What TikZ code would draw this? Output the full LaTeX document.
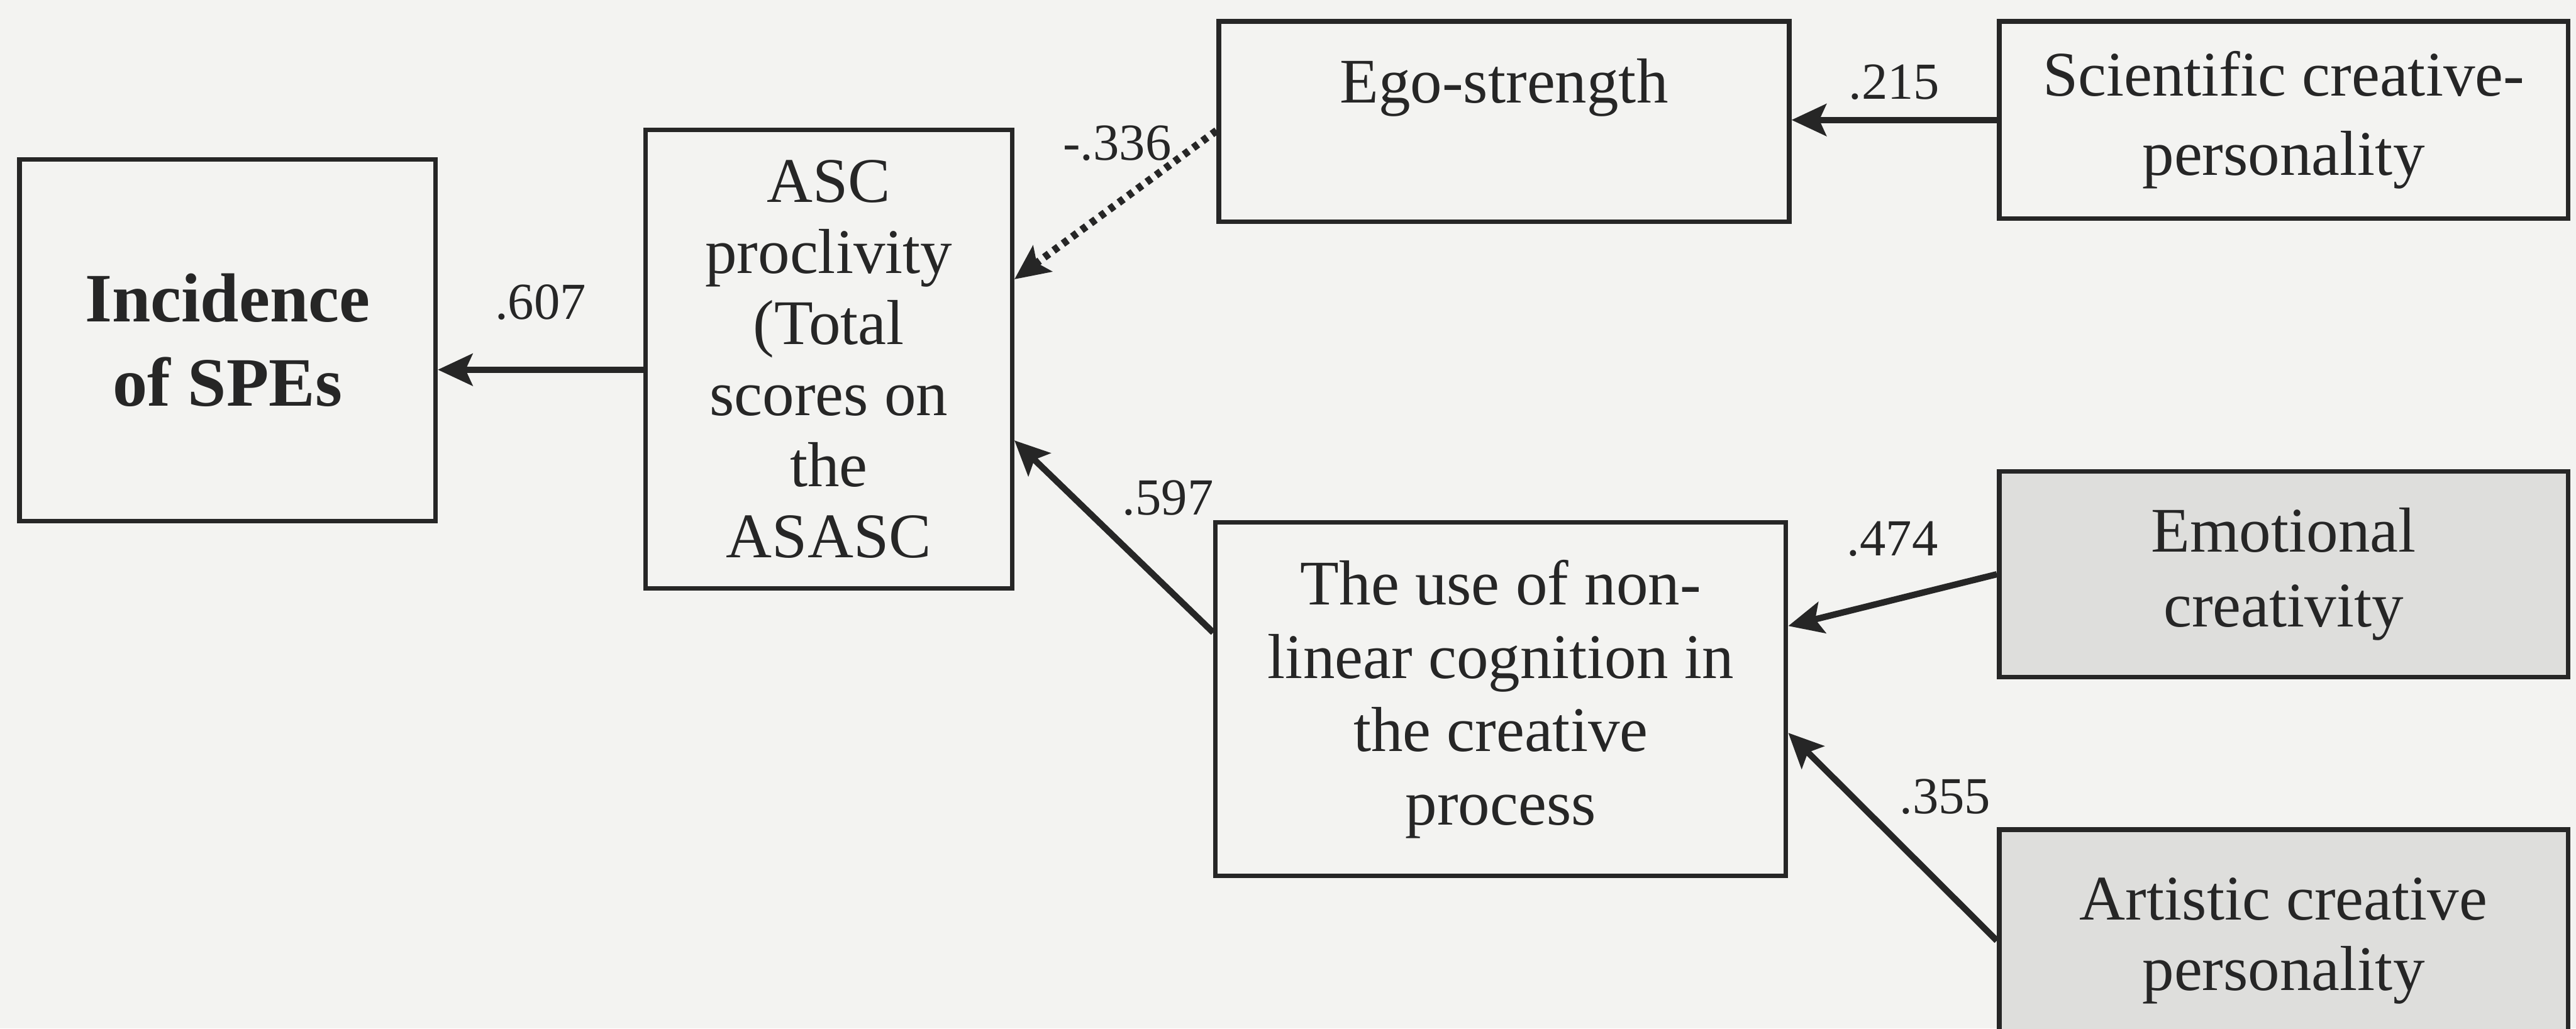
\documentclass[tikz,border=0pt]{standalone}
\usepackage{fontspec}
\setmainfont{Liberation Serif}
\usetikzlibrary{arrows.meta}

\definecolor{paper}{HTML}{F3F3F1}
\definecolor{shade}{HTML}{DEDEDC}
\definecolor{ink}{HTML}{262626}

\tikzset{
  box/.style={draw=ink, line width=0.8pt, fill=paper, align=center, inner sep=0pt,
    text=ink, font=\fontsize{11}{12.7}\selectfont},
  greybox/.style={box, fill=shade},
  path/.style={draw=ink, line width=1.1pt, -{Stealth[length=6pt, width=5.5pt, inset=1.2pt]}},
  dotpath/.style={path, line width=1.3pt, dash pattern=on 1pt off 1pt},
  coef/.style={text=ink, inner sep=0pt, font=\fontsize{9}{11}\selectfont}
}

\begin{document}
\begin{tikzpicture}[x=0.01cm, y=-0.01cm]
  % canvas
  \fill[paper] (0,0) rectangle (1568,626);
  \useasboundingbox (0,0) rectangle (1568,626);

  % variables
  \node[box, minimum width=2.53cm, minimum height=2.20cm,
        font=\bfseries\fontsize{12}{14.6}\selectfont] (inc) at (138.5,207)
        {Incidence\\of SPEs};
  \node[box, minimum width=2.23cm, minimum height=2.79cm,
        font=\fontsize{11}{12.3}\selectfont] (asc) at (504.5,218.5)
        {ASC\\proclivity\\(Total\\scores on\\the\\ASASC};
  \node[box, minimum width=3.47cm, minimum height=1.22cm] (ego) at (915.5,74)
        {\raisebox{3.2pt}[0pt][0pt]{Ego-strength}};
  \node[box, minimum width=3.46cm, minimum height=1.20cm,
        font=\fontsize{11}{13.8}\selectfont] (sci) at (1390,73)
        {Scientific creative-\\personality};
  \node[box, minimum width=3.47cm, minimum height=2.15cm] (nl) at (913.5,425.5)
        {The use of non-\\linear cognition in\\the creative\\process};
  \node[greybox, minimum width=3.46cm, minimum height=1.25cm,
        font=\fontsize{11}{13}\selectfont] (emo) at (1390,349.5)
        {Emotional\\creativity};
  \node[greybox, minimum width=3.46cm, minimum height=1.35cm,
        font=\fontsize{11}{12.2}\selectfont] (art) at (1390,572.5)
        {Artistic creative\\personality};

  % paths
  \coordinate (ascout) at ([yshift=-0.065cm]asc.west);
  \draw[path] (ascout) -- (ascout -| inc.east);
  \draw[dotpath] ([yshift=-0.055cm]ego.west) -- ([yshift=0.485cm]asc.east);
  \draw[path] ([yshift=0.405cm]nl.west) -- ([yshift=-0.495cm]asc.east);
  \draw[path] (sci.west) -- (sci.west -| ego.east);
  \draw[path] (emo.west) -- ([yshift=0.445cm]nl.east);
  \draw[path] (art.west) -- ([yshift=-0.205cm]nl.east);

  % path coefficients
  \node[coef] (c607) at (329,184) {.607};
  \node[coef] (c336) at (680,87) {-.336};
  \node[coef] (c597) at (711,303) {.597};
  \node[coef] (c215) at (1153,50) {.215};
  \node[coef] (c474) at (1152,328) {.474};
  \node[coef] (c355) at (1184,485) {.355};
\end{tikzpicture}
\end{document}
